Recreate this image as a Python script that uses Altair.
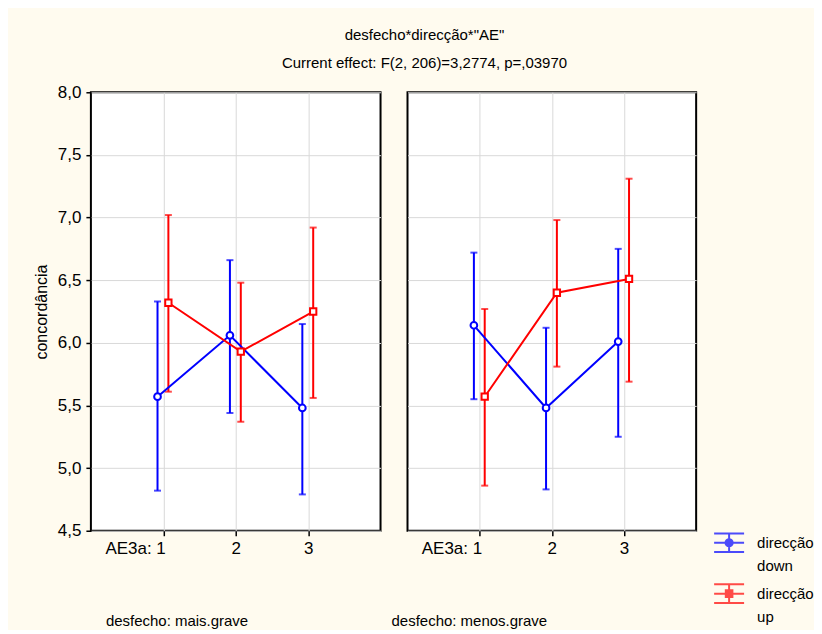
import altair as alt
import pandas as pd

desfecho_levels = ["mais.grave", "menos.grave"]
ae_levels = [1, 2, 3]
serie_levels = ["down", "up"]

mais_down_mean = [5.57, 6.06, 5.48]
mais_down_lo = [4.82, 5.44, 4.79]
mais_down_hi = [6.33, 6.66, 6.15]
mais_up_mean = [6.32, 5.93, 6.25]
mais_up_lo = [5.61, 5.37, 5.56]
mais_up_hi = [7.02, 6.48, 6.92]

menos_down_mean = [6.14, 5.48, 6.01]
menos_down_lo = [5.55, 4.83, 5.25]
menos_down_hi = [6.72, 6.12, 6.75]
menos_up_mean = [5.57, 6.40, 6.51]
menos_up_lo = [4.86, 5.81, 5.69]
menos_up_hi = [6.27, 6.98, 7.31]

y_ticks = [4.5, 5.0, 5.5, 6.0, 6.5, 7.0, 7.5, 8.0]

groups = [
    ("mais.grave", "down", mais_down_mean, mais_down_lo, mais_down_hi),
    ("mais.grave", "up", mais_up_mean, mais_up_lo, mais_up_hi),
    ("menos.grave", "down", menos_down_mean, menos_down_lo, menos_down_hi),
    ("menos.grave", "up", menos_up_mean, menos_up_lo, menos_up_hi),
]
rows = []
for d, s, m, lo, hi in groups:
    for a, mv, lv, hv in zip(ae_levels, m, lo, hi):
        rows.append({"desfecho": d, "serie": s, "AE": a, "mean": mv, "lo": lv, "hi": hv})
df = pd.DataFrame(rows)

FONT = "Liberation Sans"
BLUE = "#0000ff"
RED = "#ff0000"

path_down = ("M-1,-0.62H1M-1,0H1M-1,0.62H1M0,-0.62V0.62"
             "M0.24,0A0.24,0.24 0 1,1 -0.24,0A0.24,0.24 0 1,1 0.24,0")
path_up = ("M-1,-0.62H1M-1,0H1M-1,0.62H1M0,-0.62V0.62"
           "M-0.22,-0.22H0.22V0.22H-0.22Z")

color_scale = alt.Scale(domain=serie_levels, range=[BLUE, RED])


def panel(d, first, with_legend, title_dx, width):
    base = alt.Chart(df).transform_filter(alt.datum.desfecho == d).transform_calculate(
        xp="datum.AE + (datum.serie == 'down' ? -0.08 : 0.07)"
    )
    xsc = alt.Scale(domain=[0, 4], nice=False, zero=False)
    xaxis = alt.Axis(
        values=ae_levels, title=None, format="d",
        labelExpr="datum.value == 1 ? 'AE3a:  1' : datum.label",
        labelAlign={"condition": {"test": "datum.value == 1", "value": "right"}, "value": "center"},
        labelOffset={"condition": {"test": "datum.value == 1", "value": 2}, "value": 0},
    )
    ysc = alt.Scale(domain=[4.5, 8], nice=False, zero=False)
    yaxis = alt.Axis(
        values=y_ticks,
        title="concordância" if first else None,
        labels=first, ticks=first,
        labelExpr="replace(format(datum.value, '.1f'), '.', ',')",
    )
    x = alt.X("xp:Q", scale=xsc, axis=xaxis)
    col = alt.Color("serie:N", scale=color_scale)

    rules = base.mark_rule(strokeWidth=2).encode(
        x=x, y=alt.Y("lo:Q", scale=ysc, axis=yaxis), y2="hi:Q", color=col)
    cap_lo = base.mark_tick(orient="horizontal", size=7, thickness=2).encode(
        x=x, y=alt.Y("lo:Q"), color=col)
    cap_hi = base.mark_tick(orient="horizontal", size=7, thickness=2).encode(
        x=x, y=alt.Y("hi:Q"), color=col)
    line = base.mark_line(strokeWidth=2).encode(
        x=x, y=alt.Y("mean:Q"), color=col, detail="serie:N", order="AE:Q")
    pts_down = base.transform_filter(alt.datum.serie == "down").mark_point(
        shape="circle", filled=True, fill="white", stroke=BLUE, strokeWidth=2, size=45, opacity=1
    ).encode(x=x, y=alt.Y("mean:Q"))
    pts_up = base.transform_filter(alt.datum.serie == "up").mark_point(
        shape="square", filled=True, fill="white", stroke=RED, strokeWidth=2, size=40, opacity=1
    ).encode(x=x, y=alt.Y("mean:Q"))

    layers = [rules, cap_lo, cap_hi, line, pts_down, pts_up]
    if with_legend:
        leg_props = dict(
            title=None, orient="none", legendX=623, legendY=435, padding=0,
            labelExpr="['direcção', datum.label]",
            labelFont=FONT, labelFontSize=15, labelColor="black", labelBaseline="middle",
            symbolSize=900, symbolStrokeWidth=2, symbolOpacity=1,
            rowPadding=4, labelOffset=12,
        )
        leg = base.mark_point(opacity=0, filled=False).encode(
            x=x, y=alt.Y("mean:Q"),
            color=alt.Color("serie:N", scale=color_scale, legend=alt.Legend(**leg_props)),
            shape=alt.Shape("serie:N", scale=alt.Scale(domain=serie_levels, range=[path_down, path_up]),
                            legend=alt.Legend(**leg_props)),
        )
        layers.append(leg)

    return alt.layer(*layers).properties(
        width=width, height=439,
        title=alt.TitleParams(
            "desfecho: " + d, orient="bottom", anchor="start", frame="group",
            dx=title_dx, offset=57, font=FONT, fontSize=15, fontWeight="normal", color="black",
        ),
    )


left = panel("mais.grave", True, False, 15, 290)
right = panel("menos.grave", False, True, -16, 289)

chart = alt.hconcat(left, right, spacing=9).properties(
    title=alt.TitleParams(
        text='desfecho*direcção*"AE"',
        subtitle="Current effect: F(2, 206)=3,2774, p=,03970",
        font=FONT, subtitleFont=FONT, fontSize=15, subtitleFontSize=15,
        fontWeight="normal", color="black", subtitleColor="black",
        anchor="middle", frame="group", dx=334, subtitlePadding=13, offset=11,
    ),
    background="#fffbef",
    padding={"left": 24, "top": 20, "right": 0, "bottom": 0},
).configure(
    style={"guide-label": {"lineHeight": 23}}
).configure_view(
    stroke="black", strokeWidth=2, fill="white"
).configure_axis(
    domain=False, grid=True, gridColor="#d9d9d9", gridWidth=1,
    tickColor="black", tickSize=5, tickWidth=1.5,
    labelFont=FONT, labelFontSize=17, labelColor="black", labelPadding=5,
    titleFont=FONT, titleFontSize=16, titleFontWeight="normal", titleColor="black", titlePadding=8,
)

chart.save("out.html", embed_options={"renderer": "svg", "actions": False})
